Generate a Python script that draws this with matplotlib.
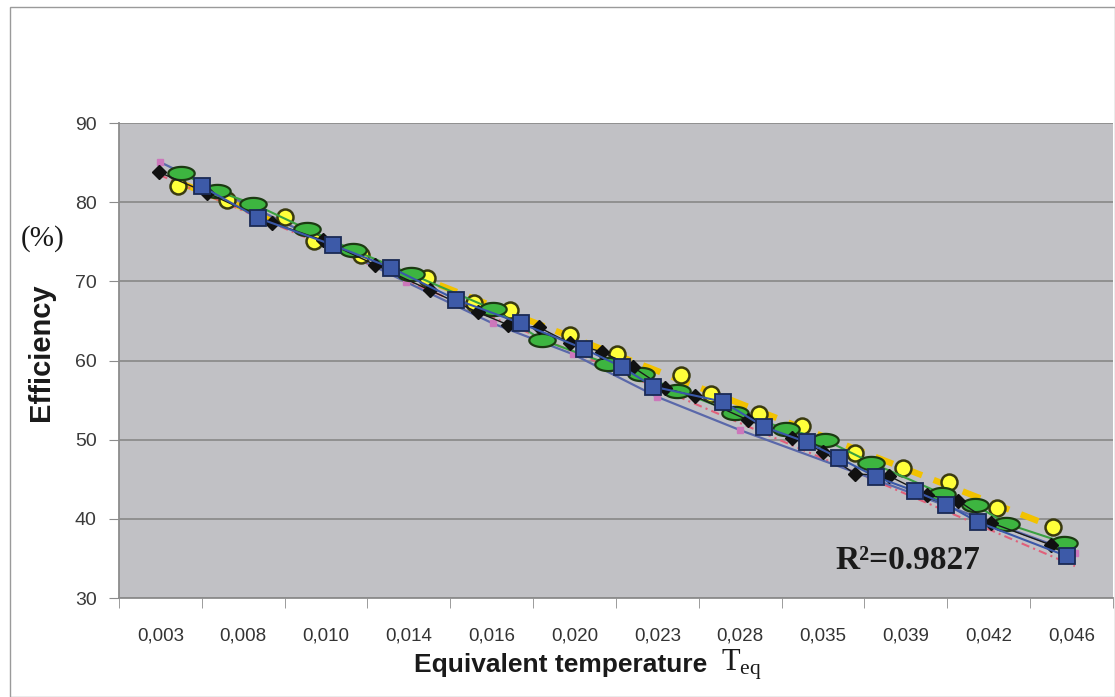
import numpy as np
import matplotlib
matplotlib.use("Agg")
from matplotlib import pyplot as plt
from matplotlib.path import Path
from matplotlib.patches import Rectangle

plt.rcParams["mathtext.fontset"] = "custom"
plt.rcParams["mathtext.rm"] = "Liberation Serif"
plt.rcParams["mathtext.it"] = "Liberation Serif"

# category labels of the x axis (one per category, Excel style)
categories = ["0,003", "0,008", "0,010", "0,014", "0,016", "0,020",
              "0,023", "0,028", "0,035", "0,039", "0,042", "0,046"]

# positions are in category units (0 = left edge of first category)
black_x = [0.48, 1.06, 1.85, 2.46, 3.09, 3.75, 4.33, 4.70, 5.07, 5.44, 5.83, 6.20,
           6.59, 6.95, 7.59, 8.13, 8.50, 8.88, 9.30, 9.76, 10.13, 10.53, 11.25]
black_y = [83.8, 81.2, 77.4, 75.2, 72.1, 68.9, 66.1, 64.5, 64.2, 62.2, 61.1, 59.2,
           56.5, 55.5, 52.5, 50.2, 48.5, 45.7, 45.4, 43.0, 42.3, 39.5, 36.7]

blue_x = [1.00, 1.68, 2.58, 3.29, 4.07, 4.85, 5.61, 6.07, 6.45, 7.29, 7.79, 8.30,
          8.69, 9.14, 9.61, 9.99, 10.37, 11.44]
blue_y = [82.0, 78.0, 74.6, 71.7, 67.7, 64.7, 61.5, 59.2, 56.7, 54.8, 51.6, 49.7,
          47.7, 45.3, 43.5, 41.8, 39.6, 35.3]

yellow_x = [0.71, 1.31, 2.00, 2.36, 2.92, 3.72, 4.29, 4.72, 5.44, 6.01, 6.79, 7.15,
            7.73, 8.24, 8.88, 9.46, 10.02, 10.60, 11.27]
yellow_y = [82.0, 80.3, 78.1, 75.1, 73.3, 70.4, 67.3, 66.4, 63.2, 60.8, 58.2, 55.8,
            53.3, 51.7, 48.3, 46.4, 44.7, 41.4, 39.0]

green_x = [0.75, 1.18, 1.62, 2.27, 2.82, 3.53, 4.51, 5.11, 5.90, 6.30, 6.74, 7.44,
           8.05, 8.52, 9.08, 9.93, 10.33, 10.71, 11.41]
green_y = [83.7, 81.4, 79.8, 76.6, 74.0, 70.9, 66.5, 62.6, 59.6, 58.3, 56.2, 53.4,
           51.4, 50.0, 47.1, 43.2, 41.8, 39.4, 37.0]

pink_x = [0.49, 3.47, 4.51, 5.48, 6.50, 7.50, 11.54]
pink_y = [85.1, 69.9, 64.7, 60.8, 55.4, 51.2, 35.7]

r2_text = "R²=0.9827"

# ellipse marker for the green series
t = np.linspace(0, 2 * np.pi, 60)
ellipse = Path(np.column_stack([np.cos(t), 0.5 * np.sin(t)]), closed=True)

fig = plt.figure(figsize=(11.15, 6.97), dpi=100)
fig.patches.append(Rectangle((0.009, 0.0), 0.991, 0.99, transform=fig.transFigure,
                             fill=False, edgecolor="#9a9a9a", lw=1.0))
ax = fig.add_axes([0.1067, 0.142, 0.8915, 0.6815])
ax.set_facecolor("#c1c1c5")

# trend lines
yf = np.polyfit(yellow_x, yellow_y, 1)
xs = np.array([yellow_x[0], yellow_x[-1]])
ax.plot(xs, np.polyval(yf, xs), color="#f2c200", lw=4.5, ls=(0, (3, 2)), zorder=2)
pf = np.polyfit(pink_x, pink_y, 1)
xs = np.array([pink_x[0], pink_x[-1]])
ax.plot(xs, np.polyval(pf, xs), color="#e0607a", lw=1.5, ls=(0, (4, 2, 1, 2)), zorder=2)

# series lines and markers
ax.plot(pink_x, pink_y, color="#5a68aa", lw=1.6, marker="s", ms=4.5,
        mfc="#cc77bb", mec="#cc77bb", zorder=3)
ax.plot(yellow_x, yellow_y, ls="none", marker="o", ms=11.5, mfc="#ffff3a",
        mec="#3a3a10", mew=1.8, zorder=4)
ax.plot(green_x, green_y, color="#3aa040", lw=1.5, marker=ellipse, ms=19,
        mfc="#3db540", mec="#1c3a12", mew=1.6, zorder=5)
ax.plot(black_x, black_y, color="#1a1a1a", lw=1.0, marker="D", ms=7,
        mfc="#111111", mec="#111111", zorder=6)
ax.plot(blue_x, blue_y, color="#3a58a8", lw=1.5, marker="s", ms=11,
        mfc="#3d5aa8", mec="#1a2a55", mew=1.3, zorder=7)

ax.text(8.65, 34.8, r2_text, family="Liberation Serif", fontweight="bold",
        fontsize=24, va="center", ha="left", color="#1a1a1a", zorder=8)

ax.set_xlim(0, 12)
ax.set_ylim(30, 90)
ax.set_yticks(range(30, 91, 10))
ax.yaxis.grid(True, color="#8c8c8c", lw=1.3)
ax.set_axisbelow(True)
ax.set_xticks(np.arange(12) + 0.5)
ax.set_xticklabels(categories, family="Liberation Sans", fontsize=13.5, color="#333333")
ax.set_xticks(np.arange(13), minor=True)
ax.tick_params(axis="x", which="major", length=0, pad=21)
ax.tick_params(axis="x", which="minor", length=7, color="#8c8c8c")
ax.tick_params(axis="y", length=7, color="#8c8c8c", labelsize=14, pad=9,
               labelcolor="#3a3a3a")
for lab in ax.get_yticklabels():
    lab.set_family("Liberation Sans")
for s in ["top", "right"]:
    ax.spines[s].set_visible(False)
for s in ["left", "bottom"]:
    ax.spines[s].set_color("#8c8c8c")
    ax.spines[s].set_linewidth(1.3)

fig.text(0.037, 0.495, "Efficiency", rotation=90, family="Liberation Sans",
         fontweight="bold", fontsize=21, ha="center", va="center", color="#1a1a1a")
fig.text(0.038, 0.658, "(%)", family="Liberation Serif", fontsize=21,
         ha="center", va="center", color="#1a1a1a")
fig.text(0.634, 0.046, "Equivalent temperature", family="Liberation Sans",
         fontweight="bold", fontsize=19, ha="right", va="center", color="#1a1a1a")
fig.text(0.647, 0.046, r"$\mathrm{T}_{\mathrm{eq}}$", fontsize=22,
         ha="left", va="center", color="#1a1a1a")

fig.savefig("out.png", dpi=100)
